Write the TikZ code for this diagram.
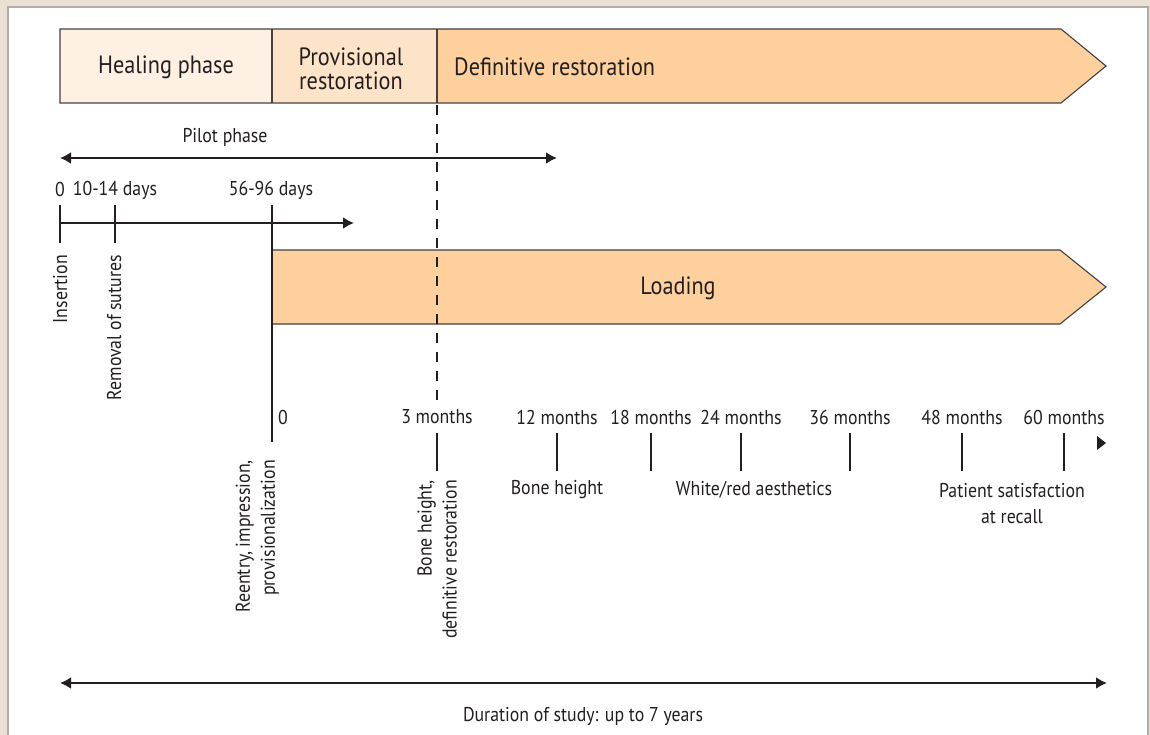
\documentclass[tikz,border=0pt]{standalone}
\usepackage{fontspec}
\setmainfont[FakeStretch=0.89]{PT Sans}
\usetikzlibrary{arrows.meta}
\definecolor{bgbeige}{RGB}{234,224,211}
\definecolor{frameg}{RGB}{178,172,166}
\definecolor{healc}{RGB}{254,240,227}
\definecolor{provc}{RGB}{253,228,200}
\definecolor{defc}{RGB}{253,208,158}
\definecolor{ink}{RGB}{35,31,32}
\tikzset{
  x=1pt, y=-1pt,
  boxline/.style={draw=ink!85, line width=1.1pt},
  bigtxt/.style={font=\fontsize{25}{22}\selectfont, text=ink, inner sep=0pt},
  smalltxt/.style={font=\fontsize{20}{26}\selectfont, text=ink, inner sep=0pt},
  axis/.style={draw=ink, line width=2.6pt},
  tick/.style={draw=ink, line width=2pt},
  tip/.style={-{Latex[length=11pt,width=12pt]}},
  tips/.style={{Latex[length=11pt,width=12pt]}-{Latex[length=11pt,width=12pt]}},
  vlabel/.style={smalltxt, rotate=90, align=right},
}
\begin{document}
\begin{tikzpicture}
\useasboundingbox (0,0) rectangle (1150,735);
\fill[bgbeige] (0,0) rectangle (1150,735);
\filldraw[fill=white, draw=frameg, line width=1.2pt] (8,7) rectangle (1148,740);

% top phase bar
\path[fill=healc] (60,29) rectangle (272,103);
\path[fill=provc] (272,29) rectangle (437,103);
\path[fill=defc] (437,29) -- (1061,29) -- (1106,66) -- (1061,103) -- (437,103) -- cycle;
\draw[boxline] (60,29) -- (1061,29) -- (1106,66) -- (1061,103) -- (60,103) -- cycle;
\draw[boxline] (272,29) -- (272,103);
\draw[boxline] (437,29) -- (437,103);
\node[bigtxt] (heal) at (166,67) {Healing phase};
\node[bigtxt, align=center, font=\fontsize{25}{24.5}\selectfont] (prov) at (351,69) {Provisional\\restoration};
\node[bigtxt, anchor=west] (defn) at (454,67) {Definitive restoration};

% pilot phase
\coordinate (pl) at (60,158);
\coordinate (pr) at (557,158);
\draw[axis, tips, line width=2.2pt] (pl) -- (pr);
\node[smalltxt] (pilot) at (225,137) {Pilot phase};

% days axis
\coordinate (d0) at (60,223);
\coordinate (d1) at (115,223);
\coordinate (d2) at (272,223);
\coordinate (dend) at (354,223);
\draw[axis, tip, line width=2.2pt] (d0) -- (dend);
\draw[tick] (60,205) -- (60,243);
\draw[tick] (115,205) -- (115,243);
\node[smalltxt] (l0) at (60,190) {0};
\node[smalltxt] (l1014) at (115,190) {10-14 days};
\node[smalltxt] (l5696) at (271,190) {56-96 days};
\node[vlabel, anchor=base east] (ins) at (67,255) {Insertion};
\node[vlabel, anchor=base east] (rem) at (121,255) {Removal of sutures};

% loading bar
\draw[boxline, fill=defc] (272,250) -- (1060,250) -- (1106,287) -- (1060,324) -- (272,324);
\node[bigtxt] (load) at (678,288) {Loading};
\draw[tick] (272,205) -- (272,442);
\node[smalltxt, anchor=west] (z0) at (278,417) {0};
\node[vlabel, anchor=south east, font=\fontsize{20}{25}\selectfont] (reentry) at (279,460) {Reentry, impression,\\provisionalization};

% dashed line
\draw[ink, line width=2pt, dash pattern=on 10pt off 9pt] (437,105) -- (437,400);

% month ticks
\foreach \x/\t/\n in {437/3 months/m3, 557/12 months/m12, 651/18 months/m18, 741/24 months/m24, 850/36 months/m36, 962/48 months/m48, 1064/60 months/m60}{
  \node[smalltxt] (\n) at (\x,417) {\t};
  \draw[tick] (\x,433) -- (\x,471);
}
\fill[ink] (1097,436) -- (1106,443) -- (1097,450) -- cycle;
\node[vlabel, anchor=south east, font=\fontsize{20}{25}\selectfont] (bone3) at (457,480) {Bone height,\\definitive restoration};
\node[smalltxt] (bone12) at (557,490) {Bone height};
\node[smalltxt] (aes) at (754,490) {White/red aesthetics};
\node[smalltxt, align=center] (pat) at (1012,504) {Patient satisfaction\\at recall};

% duration
\coordinate (ul) at (60,683);
\coordinate (ur) at (1107,683);
\draw[axis, tips] (ul) -- (ur);
\node[smalltxt] (dur) at (583,716) {Duration of study: up to 7 years};
\end{tikzpicture}
\end{document}
